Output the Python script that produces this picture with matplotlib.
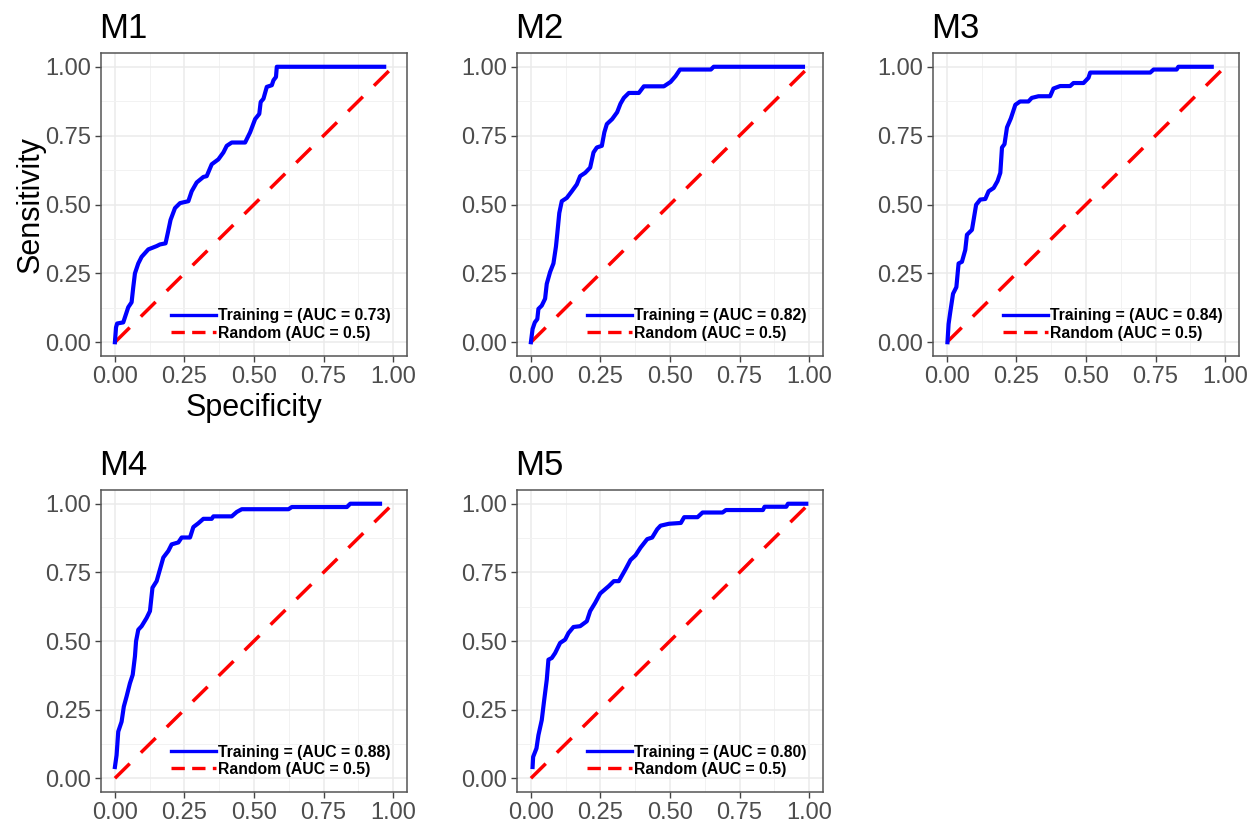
import matplotlib
matplotlib.use("Agg")
from matplotlib import pyplot as plt
from matplotlib.ticker import MultipleLocator
from matplotlib.lines import Line2D

plt.rcParams['font.family'] = ['Liberation Sans', 'DejaVu Sans']

# ROC curve points (x = 1 - specificity, y = sensitivity)
m1_x = [0, 0.004, 0.008, 0.03, 0.048, 0.06, 0.066, 0.072, 0.084, 0.096, 0.12, 0.15, 0.162, 0.182,
        0.19, 0.2, 0.216, 0.234, 0.264, 0.276, 0.294, 0.318, 0.33, 0.348, 0.372, 0.39, 0.402, 0.42,
        0.468, 0.486, 0.504, 0.519, 0.524, 0.534, 0.546, 0.564, 0.57, 0.579, 0.582, 0.968]
m1_y = [0, 0.054, 0.068, 0.072, 0.127, 0.145, 0.2, 0.25, 0.286, 0.31, 0.337, 0.349, 0.355, 0.359,
        0.396, 0.444, 0.487, 0.505, 0.512, 0.548, 0.58, 0.6, 0.603, 0.646, 0.664, 0.689, 0.713, 0.725,
        0.725, 0.762, 0.81, 0.829, 0.872, 0.884, 0.927, 0.933, 0.951, 0.963, 1.0, 1.0]

m2_x = [0, 0.006, 0.014, 0.023, 0.027, 0.039, 0.051, 0.057, 0.069, 0.081, 0.09, 0.095, 0.102, 0.111,
        0.129, 0.147, 0.165, 0.177, 0.195, 0.213, 0.225, 0.237, 0.255, 0.264, 0.273, 0.292, 0.31,
        0.322, 0.334, 0.352, 0.388, 0.406, 0.478, 0.502, 0.52, 0.536, 0.647, 0.657, 0.978]
m2_y = [0, 0.048, 0.072, 0.084, 0.121, 0.133, 0.158, 0.212, 0.255, 0.286, 0.347, 0.396, 0.469, 0.512,
        0.524, 0.548, 0.573, 0.603, 0.615, 0.634, 0.689, 0.707, 0.713, 0.762, 0.792, 0.81, 0.835,
        0.866, 0.887, 0.905, 0.905, 0.929, 0.929, 0.945, 0.966, 0.99, 0.99, 1.0, 1.0]

m3_x = [0.002, 0.006, 0.012, 0.022, 0.034, 0.042, 0.054, 0.066, 0.072, 0.09, 0.096, 0.105, 0.12,
        0.138, 0.15, 0.168, 0.182, 0.192, 0.198, 0.207, 0.216, 0.23, 0.246, 0.263, 0.293, 0.305,
        0.329, 0.371, 0.383, 0.407, 0.443, 0.455, 0.491, 0.509, 0.515, 0.731, 0.743, 0.826, 0.832, 0.952]
m3_y = [0, 0.066, 0.109, 0.176, 0.2, 0.286, 0.292, 0.335, 0.39, 0.408, 0.444, 0.499, 0.518,
        0.52, 0.548, 0.56, 0.585, 0.615, 0.707, 0.719, 0.78, 0.813, 0.862, 0.874, 0.874, 0.887,
        0.893, 0.893, 0.921, 0.93, 0.93, 0.941, 0.941, 0.96, 0.979, 0.979, 0.99, 0.99, 1.0, 1.0]

m4_x = [0, 0.006, 0.012, 0.024, 0.032, 0.042, 0.054, 0.064, 0.072, 0.076, 0.084, 0.096, 0.114,
        0.126, 0.135, 0.15, 0.162, 0.174, 0.192, 0.204, 0.228, 0.24, 0.27, 0.282, 0.3, 0.318, 0.348,
        0.354, 0.42, 0.438, 0.456, 0.624, 0.636, 0.834, 0.846, 0.953]
m4_y = [0.041, 0.084, 0.17, 0.206, 0.261, 0.298, 0.346, 0.377, 0.444, 0.499, 0.541, 0.554, 0.584,
        0.609, 0.694, 0.718, 0.761, 0.804, 0.828, 0.852, 0.859, 0.877, 0.877, 0.915, 0.929, 0.945, 0.945,
        0.954, 0.954, 0.97, 0.98, 0.98, 0.988, 0.988, 1.0, 1.0]

m5_x = [0.006, 0.008, 0.02, 0.027, 0.039, 0.047, 0.057, 0.063, 0.075, 0.087, 0.105, 0.123, 0.135,
        0.153, 0.177, 0.201, 0.213, 0.231, 0.249, 0.28, 0.298, 0.316, 0.34, 0.358, 0.376, 0.394, 0.418,
        0.436, 0.454, 0.466, 0.496, 0.539, 0.551, 0.599, 0.617, 0.689, 0.701, 0.834, 0.84, 0.918,
        0.924, 0.99]
m5_y = [0.041, 0.078, 0.109, 0.157, 0.212, 0.279, 0.359, 0.432, 0.438, 0.456, 0.493, 0.505, 0.529,
        0.551, 0.554, 0.572, 0.609, 0.639, 0.673, 0.7, 0.718, 0.718, 0.761, 0.795, 0.812, 0.84, 0.871,
        0.877, 0.907, 0.92, 0.927, 0.93, 0.951, 0.951, 0.968, 0.968, 0.977, 0.977, 0.989, 0.989,
        1.0, 1.0]

titles = ['M1', 'M2', 'M3', 'M4', 'M5']
auc = ['0.73', '0.82', '0.84', '0.88', '0.80']
curves = [(m1_x, m1_y), (m2_x, m2_y), (m3_x, m3_y), (m4_x, m4_y), (m5_x, m5_y)]
random_line = [0, 1]
ticks = [0, 0.25, 0.5, 0.75, 1.0]
tick_labels = ['0.00', '0.25', '0.50', '0.75', '1.00']

fig = plt.figure(figsize=(12.59, 8.26), dpi=100)
W, H = 1259, 826
# axes boxes in pixels: left, top, width, height
boxes = [(101, 53, 306, 303), (517, 53, 306, 303), (933, 53, 306, 303),
         (101, 490, 306, 302), (517, 490, 306, 302)]

for i, (l, t, w, h) in enumerate(boxes):
    ax = fig.add_axes([l / W, 1 - (t + h) / H, w / W, h / H])
    cx, cy = curves[i]
    ax.plot(cx, cy, color='blue', lw=3, solid_joinstyle='round', zorder=3)
    ax.plot(random_line, random_line, color='red', lw=2.5, dashes=(6, 4.5), zorder=2)

    ax.set_xlim(-0.05, 1.05)
    ax.set_ylim(-0.05, 1.05)
    ax.set_xticks(ticks)
    ax.set_yticks(ticks)
    ax.set_xticklabels(tick_labels)
    ax.set_yticklabels(tick_labels)
    ax.xaxis.set_minor_locator(MultipleLocator(0.125))
    ax.yaxis.set_minor_locator(MultipleLocator(0.125))
    ax.grid(which='major', color='#EBEBEB', lw=1.1)
    ax.grid(which='minor', color='#F2F2F2', lw=0.7)
    ax.set_axisbelow(True)
    ax.tick_params(which='major', length=4, width=1, color='#444444',
                   labelsize=17, labelcolor='#4D4D4D', pad=3)
    ax.tick_params(which='minor', length=0)
    for s in ax.spines.values():
        s.set_color('#555555')
        s.set_linewidth(1.1)

    ax.set_title(titles[i], loc='left', fontsize=25, pad=11, x=-0.005)

    handles = [Line2D([], [], color='blue', lw=2.4),
               Line2D([], [], color='red', lw=2.4, dashes=(4, 2.2))]
    labels = ['Training = (AUC = %s)' % auc[i], 'Random (AUC = 0.5)']
    ax.legend(handles, labels, loc='lower left', bbox_to_anchor=(0.228, 0.05),
              frameon=False, handlelength=2.9, handletextpad=0.1, labelspacing=0.15,
              borderpad=0, borderaxespad=0,
              prop={'weight': 'bold', 'size': 11.3})

    if i == 0:
        ax.set_ylabel('Sensitivity', fontsize=22, labelpad=0)
        ax.set_xlabel('Specificity', fontsize=22, labelpad=4)

fig.savefig('out.png', dpi=100, facecolor='white')
